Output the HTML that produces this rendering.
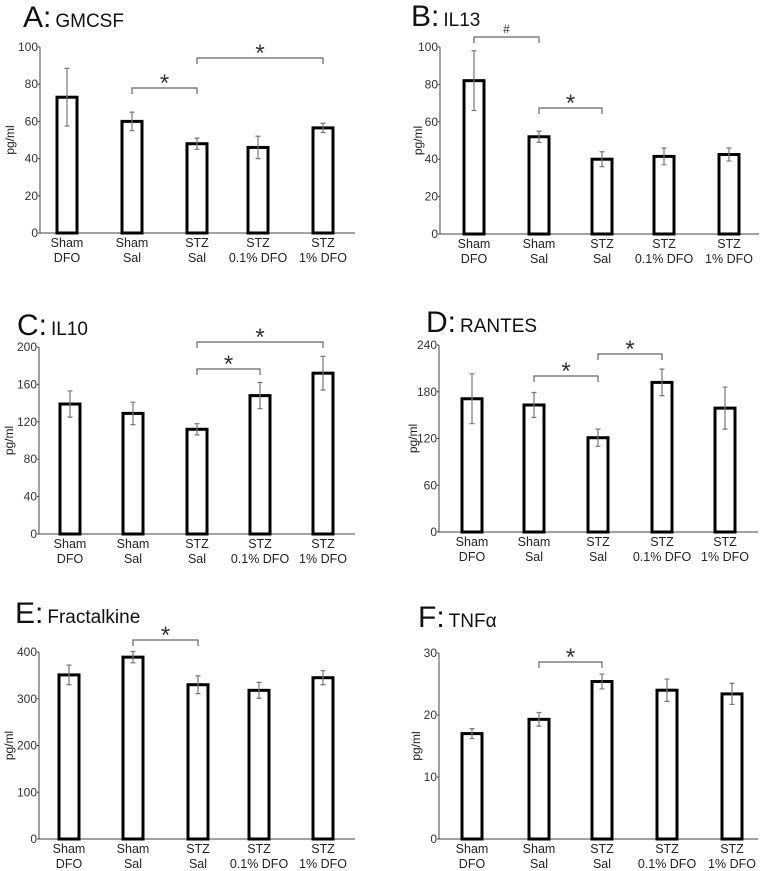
<!DOCTYPE html>
<html><head><meta charset="utf-8"><style>
html,body{margin:0;padding:0;background:#fff;}
svg{display:block;font-family:"Liberation Sans",sans-serif;}
</style></head><body>
<svg id="fig" width="767" height="871" viewBox="0 0 767 871"></svg>
<script>
const categories = [["Sham","DFO"],["Sham","Sal"],["STZ","Sal"],["STZ","0.1% DFO"],["STZ","1% DFO"]];
const valuesA = [73, 60, 48, 46, 56.5];
const errA = [15.5, 5, 3, 6, 2.5];
const ticksA = [0,20,40,60,80,100];
const valuesB = [82, 52, 40, 41.5, 42.5];
const errB = [16, 3, 4, 4.5, 3.5];
const ticksB = [0,20,40,60,80,100];
const valuesC = [139, 129, 112, 148, 172];
const errC = [14, 12, 6, 14, 18];
const ticksC = [0,40,80,120,160,200];
const valuesD = [171, 163, 121, 192, 159];
const errD = [32, 16, 11, 17, 27];
const ticksD = [0,60,120,180,240];
const valuesE = [351, 389, 330, 318, 345];
const errE = [21, 12, 19, 17, 15];
const ticksE = [0,100,200,300,400];
const valuesF = [17, 19.3, 25.4, 24, 23.4];
const errF = [0.8, 1.1, 1.2, 1.8, 1.7];
const ticksF = [0,10,20,30];
const sigA = [[1,2,"*"],[2,4,"*"]];
const sigB = [[0,1,"#"],[1,2,"*"]];
const sigC = [[2,4,"*"],[2,3,"*"]];
const sigD = [[1,2,"*"],[2,3,"*"]];
const sigE = [[1,2,"*"]];
const sigF = [[1,2,"*"]];

const NS="http://www.w3.org/2000/svg";
const svg=document.getElementById('fig');
function mk(tag,attrs,parent,text){const e=document.createElementNS(NS,tag);for(const k in attrs)e.setAttribute(k,attrs[k]);if(text!==undefined)e.textContent=text;(parent||svg).appendChild(e);return e;}

const panels=[
 {id:"a",letter:"A:",name:"GMCSF",tx:23,ty:27,ax:40,top:47,zero:233,right:355,ylx:14,bars:[67,132,197,258,323],vals:valuesA,errs:errA,ticks:ticksA,sig:sigA,sigY:[88,58]},
 {id:"b",letter:"B:",name:"IL13",tx:411,ty:26,ax:440,top:47,zero:234,right:759,ylx:422,bars:[474,539,602,664,729],vals:valuesB,errs:errB,ticks:ticksB,sig:sigB,sigY:[37,108]},
 {id:"c",letter:"C:",name:"IL10",tx:17,ty:335,ax:39,top:347,zero:534,right:355,ylx:13,bars:[70,133,197,260,323],vals:valuesC,errs:errC,ticks:ticksC,sig:sigC,sigY:[342,369]},
 {id:"d",letter:"D:",name:"RANTES",tx:426,ty:332,ax:439,top:345,zero:532,right:758,ylx:417,bars:[472,534,598,662,725],vals:valuesD,errs:errD,ticks:ticksD,sig:sigD,sigY:[376,354]},
 {id:"e",letter:"E:",name:"Fractalkine",tx:15,ty:623,ax:39,top:652,zero:839,right:355,ylx:13,bars:[69,133,198,259,323],vals:valuesE,errs:errE,ticks:ticksE,sig:sigE,sigY:[640]},
 {id:"f",letter:"F:",name:"TNFα",tx:418,ty:627,ax:439,top:653,zero:839,right:758,ylx:420,bars:[472,539,602,667,732],vals:valuesF,errs:errF,ticks:ticksF,sig:sigF,sigY:[662]}
];

panels.forEach(p=>{
  const g=mk('g',{});
  
  
  const maxT=p.ticks[p.ticks.length-1];
  const y=v=>p.zero-(v/maxT)*(p.zero-p.top);
  const t=mk('text',{x:p.tx,y:p.ty,'font-size':30,fill:'#111'},g);
  
  
  mk('tspan',{},t,p.letter);
  mk('tspan',{'font-size':19,dx:4},t,p.name);
  const ya=mk('line',{x1:p.ax,y1:p.top,x2:p.ax,y2:p.zero,stroke:'#444','stroke-width':1},g);
  
  
  const xa=mk('line',{x1:p.ax,y1:p.zero,x2:p.right,y2:p.zero,stroke:'#444','stroke-width':1},g);
  
  
  p.ticks.forEach(v=>{
    mk('line',{x1:p.ax-2,y1:y(v),x2:p.ax,y2:y(v),stroke:'#444'},g);
    const tl=mk('text',{x:p.ax-2,y:y(v)+4,'font-size':12,fill:'#333','text-anchor':'end'},g,String(v));
    
    
  });
  const yl=mk('text',{x:p.ylx,y:(p.top+p.zero)/2,'font-size':12,fill:'#222','text-anchor':'middle',transform:`rotate(-90 ${p.ylx} ${(p.top+p.zero)/2})`},g,'pg/ml');
  
  
  p.vals.forEach((v,i)=>{
    const cx=p.bars[i], w=20;
    const r=mk('rect',{x:cx-w/2,y:y(v),width:w,height:p.zero-y(v),fill:'#fff',stroke:'#000','stroke-width':3},g);
    
    
    const e=p.errs[i];
    const eb=mk('path',{d:`M${cx} ${y(v+e)}V${y(v-e)}M${cx-2.5} ${y(v+e)}H${cx+2.5}M${cx-2.5} ${y(v-e)}H${cx+2.5}`,stroke:'#777','stroke-width':1.2,fill:'none'},g);
    
    
    categories[i].forEach((s,j)=>{
      const cl=mk('text',{x:cx,y:p.zero+14+j*15,'font-size':12.5,fill:'#222','text-anchor':'middle'},g,s);
      
      
    });
  });
  p.sig.forEach((s,k)=>{
    const x1=p.bars[s[0]],x2=p.bars[s[1]],by=p.sigY[k];
    const br=mk('path',{d:`M${x1} ${by+6}V${by}H${x2}V${by+6}`,stroke:'#666','stroke-width':1.2,fill:'none'},g);
    
    
    const st=mk('text',{x:(x1+x2)/2,y:s[2]==="*"?by+3:by-4,'font-size':s[2]==="*"?24:12,fill:'#333','text-anchor':'middle'},g,s[2]);
    
    
  });
});
</script>
</body></html>
